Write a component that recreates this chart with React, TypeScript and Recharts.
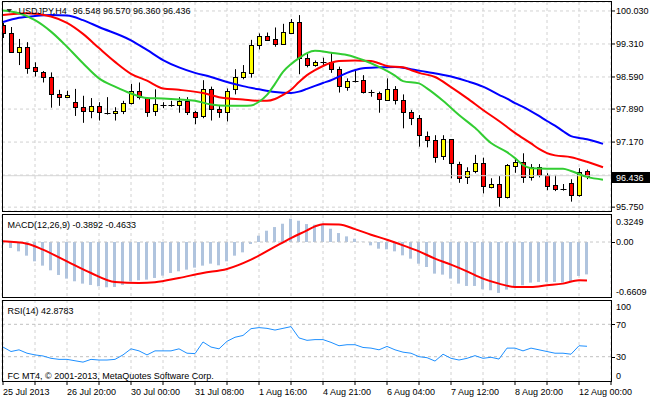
import React from "react";
import { ComposedChart, Bar, Line, XAxis, YAxis, CartesianGrid, ReferenceLine } from "recharts";

const FONT = '"Liberation Sans", Arial, sans-serif';
const GRID = "#d2d2d2";

// bar index -> time label (every 8th H4 bar)
const timeLabels = [
  "25 Jul 2013", "26 Jul 20:00", "30 Jul 00:00", "31 Jul 08:00", "1 Aug 16:00",
  "4 Aug 21:00", "6 Aug 04:00", "7 Aug 12:00", "8 Aug 20:00", "12 Aug 00:00",
];
const xTicks = [0, 4, 8, 12, 16, 20, 24, 28, 32, 36, 40, 44, 48, 52, 56, 60, 64, 68, 72, 76];
const xDomain = [-0.125, 76];

// [open, high, low, close]
const candles: [number, number, number, number][] = [
  [99.73, 99.77, 99.44, 99.55], [99.56, 99.68, 99.12, 99.14], [99.14, 99.42, 98.85, 99.25],
  [99.25, 99.35, 98.66, 98.79], [98.8, 98.91, 98.6, 98.71], [98.69, 98.72, 98.47, 98.58],
  [98.58, 98.69, 97.92, 98.21], [98.21, 98.31, 97.96, 98.15], [98.15, 98.29, 98.13, 98.19],
  [98.04, 98.33, 97.74, 97.93], [97.93, 98.18, 97.59, 97.84], [97.84, 98.13, 97.69, 97.95],
  [97.95, 98.04, 97.64, 97.83], [97.815, 98.15, 97.77, 97.81], [97.8, 97.93, 97.64, 97.85],
  [97.84, 98.07, 97.78, 98.02], [98.02, 98.44, 97.99, 98.28], [98.28, 98.47, 98.1, 98.15],
  [98.13, 98.15, 97.72, 97.82], [97.84, 98.32, 97.74, 97.99], [97.98, 98.04, 97.91, 97.975],
  [97.98, 98.07, 97.94, 97.975], [97.99, 98.15, 97.81, 98.07], [98.07, 98.15, 97.76, 97.83],
  [97.82, 97.85, 97.56, 97.72], [97.72, 98.52, 97.69, 98.32], [98.32, 98.38, 97.64, 97.89],
  [97.89, 97.98, 97.7, 97.82], [97.83, 98.34, 97.62, 98.29], [98.31, 98.76, 98.21, 98.58],
  [98.58, 98.85, 98.54, 98.69], [98.69, 99.4, 98.575, 99.29], [99.29, 99.54, 99.19, 99.49],
  [99.49, 99.56, 99.4, 99.41], [99.41, 99.67, 99.25, 99.3], [99.3, 99.75, 99.29, 99.565],
  [99.565, 99.855, 99.54, 99.8], [99.8, 99.94, 98.65, 99.01], [99.0, 99.09, 98.8, 98.84],
  [98.84, 98.95, 98.815, 98.91], [98.915, 99.01, 98.85, 98.91], [98.91, 99.11, 98.68, 98.76],
  [98.76, 98.815, 98.25, 98.38], [98.38, 98.56, 98.29, 98.5], [98.505, 98.72, 98.47, 98.5],
  [98.52, 98.63, 98.23, 98.26], [98.26, 98.31, 98.16, 98.255], [98.23, 98.27, 97.81, 98.1],
  [98.1, 98.56, 98.07, 98.335], [98.335, 98.39, 97.99, 98.09], [98.08, 98.21, 97.47, 97.82],
  [97.82, 97.87, 97.54, 97.69], [97.69, 97.76, 97.07, 97.31], [97.31, 97.4, 97.055, 97.215],
  [97.215, 97.32, 96.72, 96.85], [96.85, 97.32, 96.78, 97.23], [97.23, 97.235, 96.38, 96.71],
  [96.7, 96.74, 96.28, 96.4], [96.4, 96.62, 96.255, 96.53], [96.53, 96.89, 96.49, 96.71],
  [96.71, 96.83, 96.05, 96.21], [96.18, 96.38, 96.16, 96.255], [96.255, 96.43, 95.76, 95.98],
  [95.98, 96.69, 95.94, 96.67], [96.655, 96.815, 96.5, 96.735], [96.735, 96.925, 96.28, 96.4],
  [96.4, 96.69, 96.33, 96.62], [96.62, 96.69, 96.4, 96.44], [96.45, 96.49, 96.12, 96.2],
  [96.23, 96.45, 96.1, 96.14], [96.145, 96.255, 96.11, 96.135], [96.27, 96.36, 95.87, 96.0],
  [96.0, 96.6, 95.98, 96.51], [96.548, 96.57, 96.36, 96.436],
];

// moving averages: [bar index, price]
const lips: [number, number][] = [
  [0, 100.04], [2, 99.98], [4, 99.83], [6, 99.58], [8, 99.25], [10, 98.89], [12, 98.56], [14, 98.38],
  [16, 98.23], [18, 98.13], [20, 98.12], [22, 98.1], [24, 98.07], [26, 97.99], [28, 97.96], [30, 97.96],
  [31, 97.97], [32, 98.05], [33, 98.2], [34, 98.44], [35, 98.7], [36, 98.87], [37, 99.0], [38, 99.11],
  [39, 99.16], [41, 99.12], [43, 99.07], [45, 98.96], [47, 98.81], [49, 98.62], [50, 98.5], [52, 98.45],
  [53, 98.34], [55, 98.07], [57, 97.76], [59, 97.48], [61, 97.15], [63, 96.95], [64, 96.82], [65, 96.67],
  [66, 96.6], [68, 96.59], [70, 96.59], [71, 96.54], [73, 96.41], [75, 96.35],
];
const teeth: [number, number][] = [
  [0, 99.94], [3, 99.98], [6, 99.91], [8, 99.77], [10, 99.53], [12, 99.22], [14, 98.92], [16, 98.66],
  [18, 98.51], [20, 98.34], [22, 98.31], [25, 98.24], [27, 98.15], [30, 98.1], [32, 98.07], [33, 98.07],
  [34, 98.11], [35, 98.2], [36, 98.31], [37, 98.48], [38, 98.63], [39, 98.74], [40, 98.83], [41, 98.9],
  [42, 98.94], [44, 98.95], [46, 98.94], [47, 98.89], [48, 98.83], [50, 98.8], [51, 98.74], [52, 98.68],
  [54, 98.59], [56, 98.37], [58, 98.13], [60, 97.87], [62, 97.63], [64, 97.37], [66, 97.14], [67, 97.02],
  [68, 96.93], [69, 96.88], [71, 96.84], [73, 96.74], [75, 96.62],
];
const jaw: [number, number][] = [
  [0, 99.79], [2, 99.88], [4, 99.92], [6, 99.94], [8, 99.93], [10, 99.83], [12, 99.68], [16, 99.39],
  [18, 99.18], [20, 98.96], [22, 98.8], [24, 98.68], [26, 98.59], [28, 98.48], [30, 98.39], [32, 98.32],
  [34, 98.26], [36, 98.24], [37, 98.27], [38, 98.33], [40, 98.46], [41, 98.52], [43, 98.68], [45, 98.78],
  [47, 98.8], [49, 98.81], [51, 98.76], [53, 98.7], [56, 98.6], [58, 98.5], [60, 98.38], [62, 98.2],
  [63, 98.12], [64, 98.02], [65, 97.94], [67, 97.74], [68, 97.63], [69, 97.53], [70, 97.41], [71, 97.3],
  [72, 97.26], [73, 97.23], [75, 97.13],
];
const priceTicks = [100.03, 99.31, 98.59, 97.89, 97.17, 96.45, 95.75];
const priceDomain = [95.666, 100.226];

const macdHist = [
  -0.03, -0.072, -0.112, -0.164, -0.232, -0.284, -0.34, -0.396, -0.44, -0.472, -0.5, -0.516, -0.532,
  -0.544, -0.54, -0.516, -0.472, -0.46, -0.452, -0.432, -0.404, -0.372, -0.352, -0.332, -0.308, -0.284,
  -0.26, -0.28, -0.232, -0.164, -0.124, -0.024, 0.076, 0.136, 0.18, 0.22, 0.28, 0.256, 0.216, 0.208,
  0.208, 0.16, 0.108, 0.068, 0.04, 0.004, -0.04, -0.08, -0.088, -0.112, -0.16, -0.2, -0.26, -0.3,
  -0.38, -0.392, -0.44, -0.5, -0.528, -0.528, -0.568, -0.58, -0.612, -0.572, -0.54, -0.52, -0.488,
  -0.48, -0.48, -0.48, -0.488, -0.472, -0.408, -0.3892,
];
const macdSignal: [number, number][] = [
  [0, 0.008], [3, -0.02], [5, -0.092], [8, -0.232], [11, -0.372], [14, -0.48], [17, -0.492], [19, -0.484],
  [22, -0.432], [25, -0.372], [28, -0.324], [31, -0.212], [34, -0.055], [36, 0.048], [38, 0.14], [39, 0.188],
  [40, 0.215], [42, 0.21], [44, 0.155], [46, 0.088], [48, 0.028], [50, -0.04], [52, -0.112], [54, -0.2],
  [56, -0.272], [58, -0.352], [60, -0.44], [62, -0.5], [64, -0.54], [66, -0.54], [68, -0.52], [70, -0.5],
  [72, -0.46], [73, -0.4633],
];
const macdTicks = [0.3249, 0, -0.6609];

const rsiValues = [
  41.9, 36.4, 38.5, 34.3, 32.2, 30.9, 28, 26.7, 26.7, 25, 23.3, 26.7, 25.9, 25.9, 26.7, 32.2, 39.7, 37.2,
  32.2, 37.2, 37.2, 37.2, 39.7, 34.3, 33.8, 48.2, 41.9, 39.7, 49, 54, 56.2, 64.6, 65.9, 65, 62.9, 65, 67.1,
  53.2, 50.2, 51.1, 51.1, 47.7, 43.5, 44.8, 44.8, 41.4, 40.6, 38.5, 42.7, 38.5, 35.6, 34.3, 30, 28.8, 24.6,
  33.1, 28, 25.9, 28, 31.3, 28, 29.3, 27.1, 40.6, 40.6, 37.2, 40.6, 38.5, 36.4, 34.3, 34.3, 33.1, 43.5,
  42.8783,
];
const rsiTicks = [100, 70, 30, 0];

const rows = candles.map(([o, h, l, c], i) => ({ i, o, h, l, c, hist: macdHist[i], rsi: rsiValues[i] }));
const pts = (arr: [number, number][]) => arr.map(([i, v]) => ({ i, v }));
const last = candles[candles.length - 1];

function Candle(props: any) {
  const { x, y, width, height, payload } = props;
  const { o, h, l, c } = payload;
  const k = height / (h - l);
  const cx = Math.round(x + width / 2) + 0.5;
  const yo = y + (h - o) * k;
  const yc = y + (h - c) * k;
  const top = Math.round(Math.min(yo, yc)) + 0.5;
  const bh = Math.round(Math.abs(yo - yc));
  return (
    <g>
      <line x1={cx} x2={cx} y1={y} y2={y + height} stroke="#000" strokeWidth={1} />
      {bh < 1 ? (
        <line x1={cx - 3} x2={cx + 3} y1={top} y2={top} stroke="#000" strokeWidth={1} />
      ) : (
        <rect x={cx - 2} y={top} width={4} height={bh} fill={c >= o ? "#ffff00" : "#ff0000"} stroke="#000" strokeWidth={1} />
      )}
    </g>
  );
}

function PriceTag(props: any) {
  const { viewBox } = props;
  const x = viewBox.x + viewBox.width;
  const y = Math.round(viewBox.y);
  return (
    <g>
      <rect x={x} y={y - 4} width={39} height={11} fill="#000" />
      <text x={x + 5} y={y + 5} fill="#fff" fontSize={9} fontFamily={FONT}>{last[3].toFixed(3)}</text>
    </g>
  );
}

// right-axis label with MT4 style offsets for the panel max/min
function panelTick(offsets: Record<string, number>, marks: number[], fmt: (v: number) => string) {
  return (props: any) => {
    const { y, payload } = props;
    const v = payload.value;
    const dy = offsets[String(v)] || 0;
    return (
      <g>
        {marks.includes(v) && <line x1={611} x2={615} y1={Math.round(y) + 0.5} y2={Math.round(y) + 0.5} stroke="#000" />}
        <text x={616} y={y + dy + 3.2} fontSize={9} fontFamily={FONT} fill="#000">{fmt(v)}</text>
      </g>
    );
  };
}

function TimeTick(props: any) {
  const { x, y, payload } = props;
  const v = payload.value;
  if (v % 8 !== 0 || v / 8 >= timeLabels.length) return null;
  return (
    <text x={x} y={y + 8} fontSize={9} fontFamily={FONT} fill="#000">{timeLabels[v / 8]}</text>
  );
}

export default function App() {
  return (
    <div style={{ position: "absolute", left: 0, top: 0, width: 650, height: 400, background: "#fff", overflow: "hidden" }}>
      <div style={{ position: "absolute", left: 0, top: 0 }}>
        <ComposedChart width={650} height={213} data={rows} margin={{ top: 2, right: 0, bottom: 2, left: 2 }}>
          <CartesianGrid stroke={GRID} strokeDasharray="3 3" />
          <XAxis dataKey="i" type="number" domain={xDomain} ticks={xTicks} allowDataOverflow hide />
          <YAxis
            orientation="right" width={39} domain={priceDomain} ticks={priceTicks} allowDataOverflow interval={0}
            axisLine={false} tickSize={4} tickMargin={1} tickLine={{ stroke: "#000" }}
            tick={{ fontSize: 9, fill: "#000", fontFamily: FONT }}
            tickFormatter={(v: number) => (v === 96.45 ? "" : v.toFixed(3))}
          />
          <ReferenceLine y={last[3]} stroke="#d6d6d6" strokeWidth={1} label={PriceTag} />
          <Bar dataKey={(d: any) => [d.l, d.h]} shape={Candle} barSize={5} isAnimationActive={false} />
          <Line data={pts(jaw)} dataKey="v" type="monotone" stroke="#0000ff" strokeWidth={2} dot={false} isAnimationActive={false} />
          <Line data={pts(teeth)} dataKey="v" type="monotone" stroke="#ff0000" strokeWidth={2} dot={false} isAnimationActive={false} />
          <Line data={pts(lips)} dataKey="v" type="monotone" stroke="#32cd32" strokeWidth={2} dot={false} isAnimationActive={false} />
        </ComposedChart>
      </div>

      <div style={{ position: "absolute", left: 0, top: 213 }}>
        <ComposedChart width={650} height={85} data={rows} margin={{ top: 2, right: 0, bottom: 1, left: 2 }}>
          <CartesianGrid stroke={GRID} strokeDasharray="3 3" horizontal={false} />
          <XAxis dataKey="i" type="number" domain={xDomain} ticks={xTicks} allowDataOverflow hide />
          <YAxis
            orientation="right" width={39} domain={[-0.6609, 0.3249]} ticks={macdTicks} allowDataOverflow interval={0}
            axisLine={false} tickLine={false}
            tick={panelTick({ "0.3249": 7, "-0.6609": -5.5 }, [0], (v) => (v === 0 ? "0.00" : v.toFixed(4)))}
          />
          <ReferenceLine y={0} stroke="#c8c8c8" strokeDasharray="3 3" />
          <Bar dataKey="hist" fill="#b0c4de" barSize={3} isAnimationActive={false} />
          <Line data={pts(macdSignal)} dataKey="v" type="monotone" stroke="#ff0000" strokeWidth={2} dot={false} isAnimationActive={false} />
        </ComposedChart>
      </div>

      <div style={{ position: "absolute", left: 0, top: 298 }}>
        <ComposedChart width={650} height={102} data={rows} margin={{ top: 2, right: 0, bottom: 0, left: 2 }}>
          <CartesianGrid stroke={GRID} strokeDasharray="3 3" horizontal={false} />
          <XAxis
            dataKey="i" type="number" domain={xDomain} ticks={xTicks} allowDataOverflow interval={0} height={19}
            axisLine={false} tickSize={4} tickMargin={2} tickLine={{ stroke: "#000" }} tick={TimeTick}
          />
          <YAxis
            orientation="right" width={39} domain={[0, 100]} ticks={rsiTicks} allowDataOverflow interval={0}
            axisLine={false} tickLine={false}
            tick={panelTick({ "100": 6.5, "0": -5.5 }, [70, 30], (v) => String(v))}
          />
          <ReferenceLine y={70} stroke="#c0c0c0" strokeDasharray="3 3" />
          <ReferenceLine y={30} stroke="#c0c0c0" strokeDasharray="3 3" />
          <Line dataKey="rsi" type="linear" stroke="#1e90ff" strokeWidth={1} dot={false} isAnimationActive={false} />
        </ComposedChart>
      </div>

      <svg width={650} height={400} style={{ position: "absolute", left: 0, top: 0, pointerEvents: "none" }}>
        <rect x={2.5} y={1.5} width={609} height={210} fill="none" stroke="#000" />
        <rect x={2.5} y={214.5} width={609} height={83} fill="none" stroke="#000" />
        <rect x={2.5} y={300.5} width={609} height={81} fill="none" stroke="#000" />
        <polygon points="6.5,9 12,9 9.25,12.5" fill="#333" />
        <g fontSize={9} fontFamily={FONT} fill="#000">
          <text x={18.5} y={14}>
            USDJPY,H4
            <tspan dx={6}>{`${last[0].toFixed(3)} ${last[1].toFixed(3)} ${last[2].toFixed(3)} ${last[3].toFixed(3)}`}</tspan>
          </text>
          <text x={7.5} y={227.5}>{`MACD(12,26,9) ${macdHist[macdHist.length - 1].toFixed(4)} ${macdSignal[macdSignal.length - 1][1].toFixed(4)}`}</text>
          <text x={7.5} y={313.5}>{`RSI(14) ${rsiValues[rsiValues.length - 1].toFixed(4)}`}</text>
          <text x={7.5} y={378.5}>FC MT4, © 2001-2013, MetaQuotes Software Corp.</text>
        </g>
      </svg>
    </div>
  );
}
